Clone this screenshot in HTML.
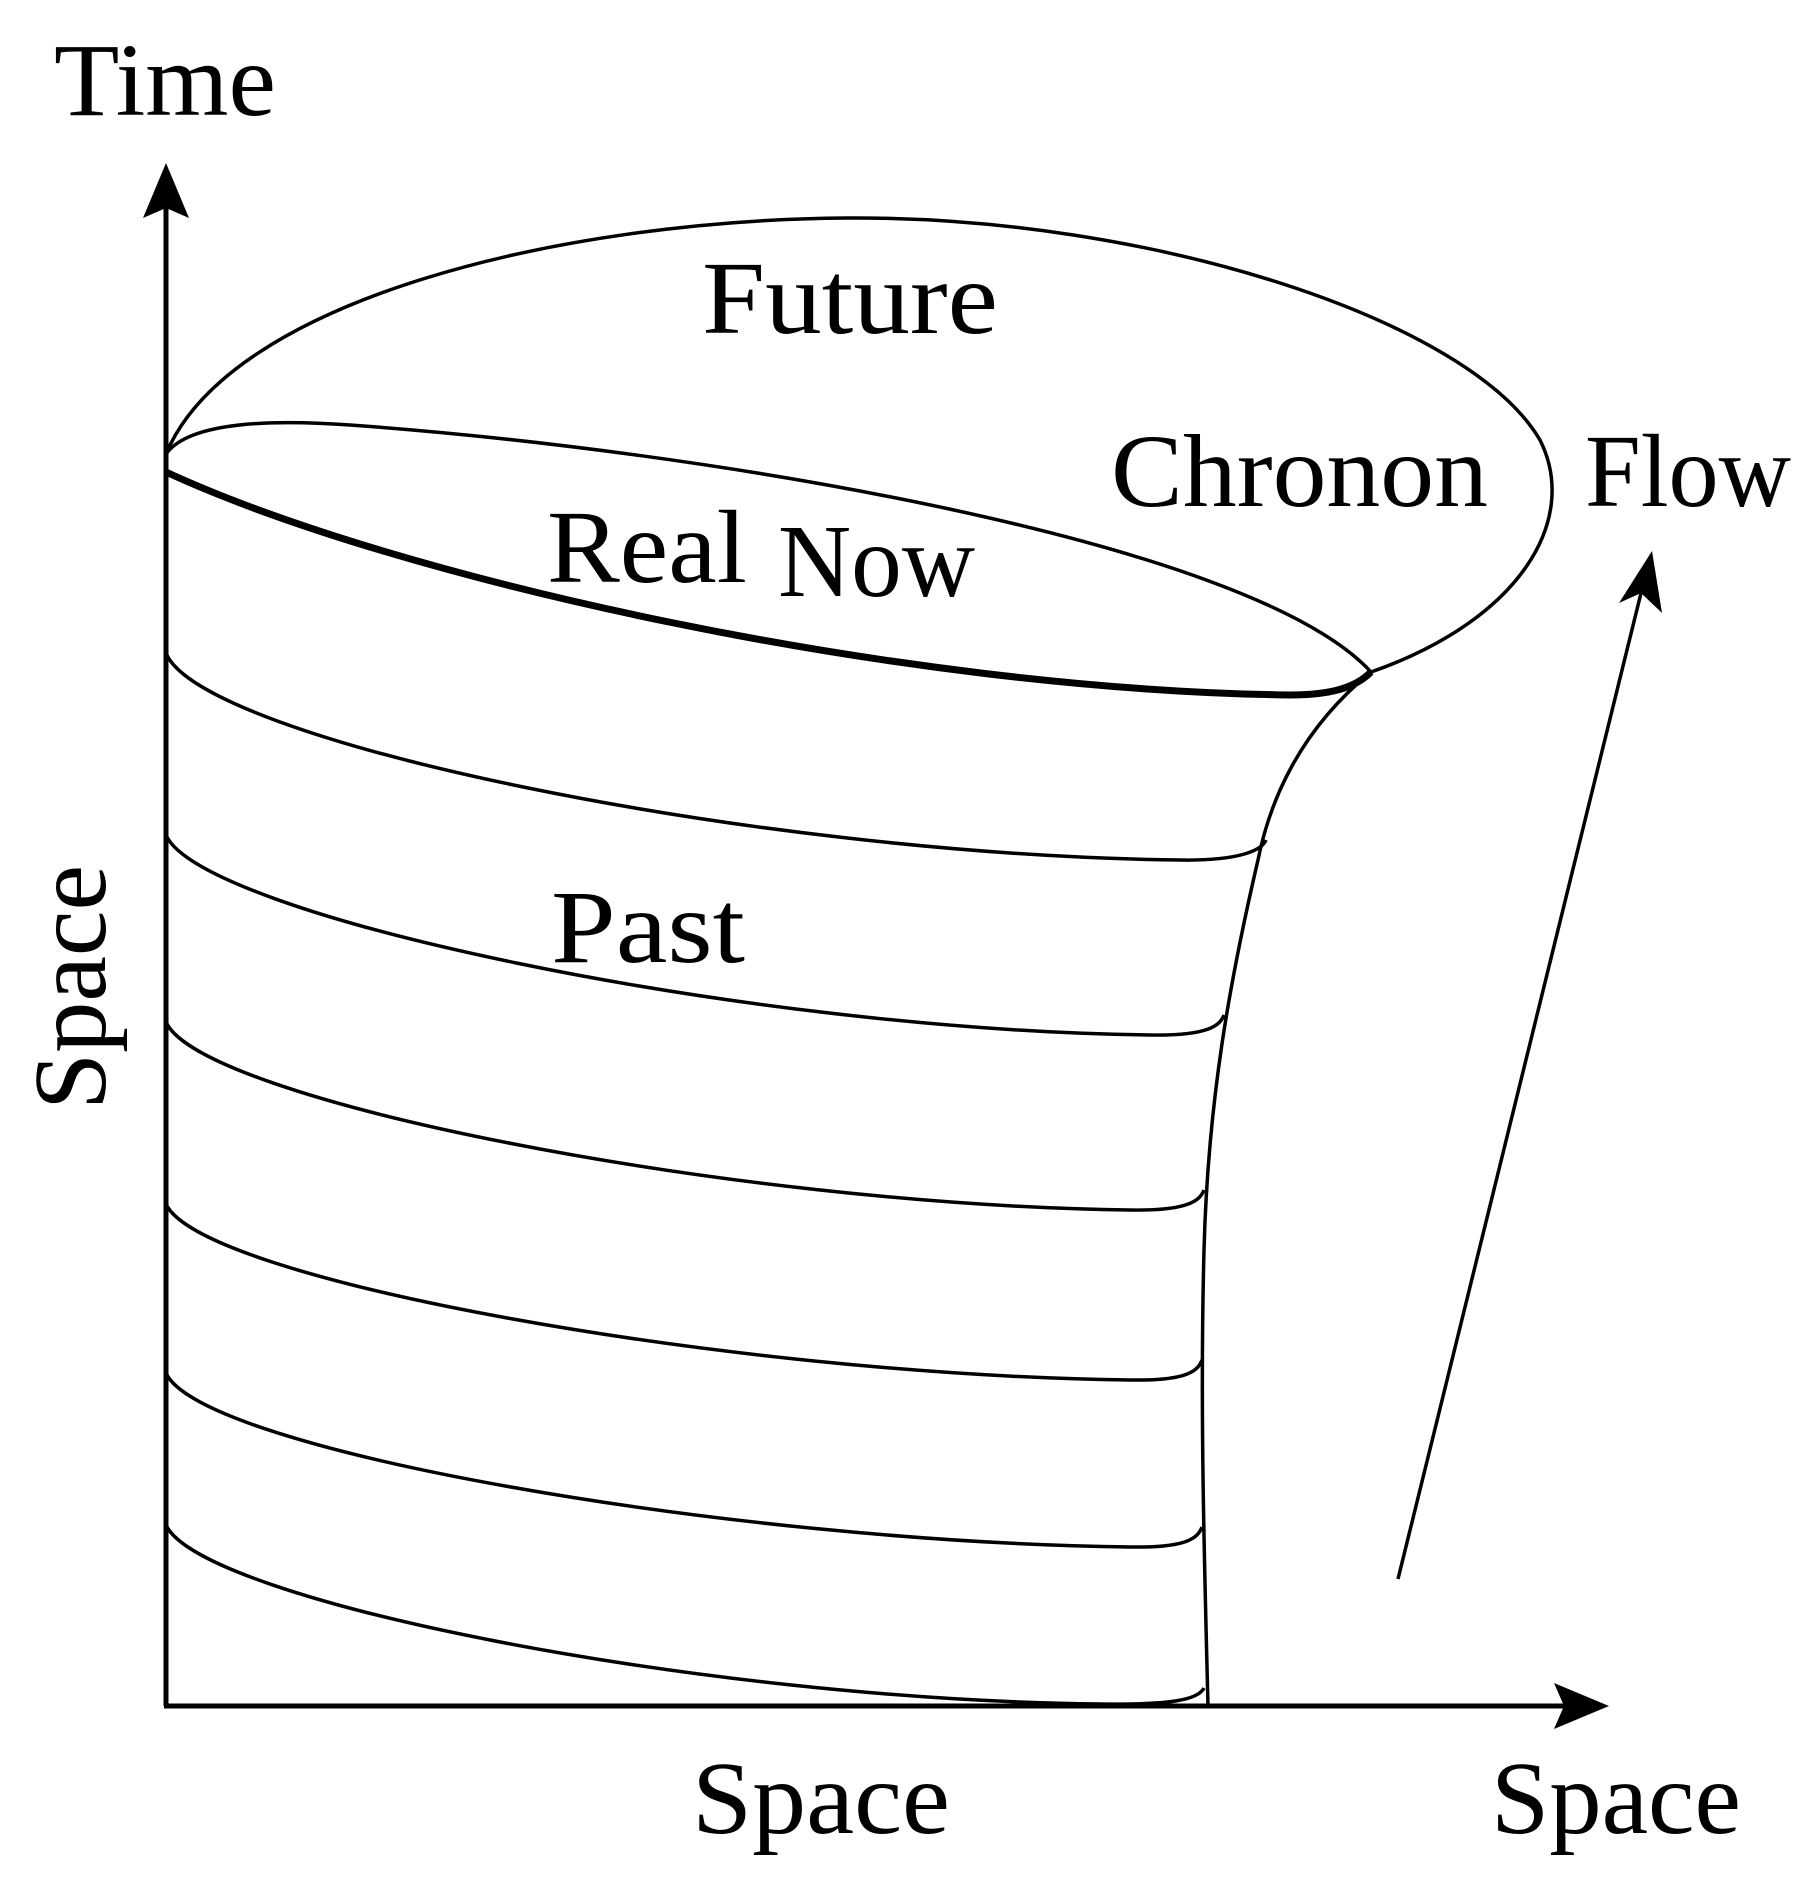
<!DOCTYPE html>
<html><head><meta charset="utf-8"><style>
html,body{margin:0;padding:0;background:#fff;}
svg{display:block}
text{font-family:"Liberation Serif",serif;font-size:104px;fill:#000}
</style></head><body>
<svg width="1815" height="1895" viewBox="0 0 1815 1895" xmlns="http://www.w3.org/2000/svg">
<g fill="none" stroke="#000" stroke-width="3.5">
<line x1="166" y1="1706" x2="166" y2="200" stroke-width="5"/>
<line x1="164" y1="1706" x2="1570" y2="1706" stroke-width="5"/>
<path d="M166,454 C230,300 560,220 847,218 C1150,216 1470,320 1540,440 C1580,520 1520,620 1371,672"/>
<path d="M166,454 C190,420 280,420 350,425 C700,450 1250,540 1371,672"/>
<path d="M166,472 C400,580 900,690 1290,695 C1330,695 1355,688 1371,672" stroke-width="7"/>
<path d="M1371,672 C1300,730 1270,800 1258,860 C1230,980 1208,1100 1204,1250 C1200,1400 1204,1550 1208,1706"/>
<path d="M166,653 C200,740 750,855 1180,860 C1240,861 1262,850 1266,840"/>
<path d="M166,835 C200,915 740,1030 1150,1035 C1210,1036 1220,1025 1224,1015"/>
<path d="M166,1022 C200,1100 730,1205 1130,1210 C1190,1211 1200,1200 1204,1190"/>
<path d="M166,1204 C200,1280 730,1375 1130,1380 C1190,1381 1198,1370 1202,1360"/>
<path d="M166,1373 C200,1450 730,1542 1130,1547 C1190,1548 1198,1537 1202,1527"/>
<path d="M166,1525 C200,1600 700,1700 1100,1704 C1170,1705 1198,1700 1204,1688"/>
<line x1="1398" y1="1579" x2="1643" y2="585"/>
</g>
<polygon points="166,163 143,218 166,208 189,218" fill="#000"/>
<polygon points="1609,1706 1554,1683 1564,1706 1554,1729" fill="#000"/>
<polygon points="1652,551 1619,603 1641,593 1662,613" fill="#000"/>
<text x="54" y="115" textLength="222" lengthAdjust="spacingAndGlyphs">Time</text>
<text x="702" y="333" textLength="296" lengthAdjust="spacingAndGlyphs">Future</text>
<text x="1111" y="506" textLength="377" lengthAdjust="spacingAndGlyphs">Chronon</text>
<text x="1585" y="506" textLength="206" lengthAdjust="spacingAndGlyphs">Flow</text>
<text x="547" y="582" textLength="200" lengthAdjust="spacingAndGlyphs">Real</text>
<text x="778" y="596" textLength="197" lengthAdjust="spacingAndGlyphs">Now</text>
<text x="551" y="962" textLength="194" lengthAdjust="spacingAndGlyphs">Past</text>
<text x="692" y="1833" textLength="258" lengthAdjust="spacingAndGlyphs">Space</text>
<text x="1491" y="1833" textLength="250" lengthAdjust="spacingAndGlyphs">Space</text>
<text transform="translate(105,1110) rotate(-90)" textLength="245" lengthAdjust="spacingAndGlyphs">Space</text>
</svg>
</body></html>
